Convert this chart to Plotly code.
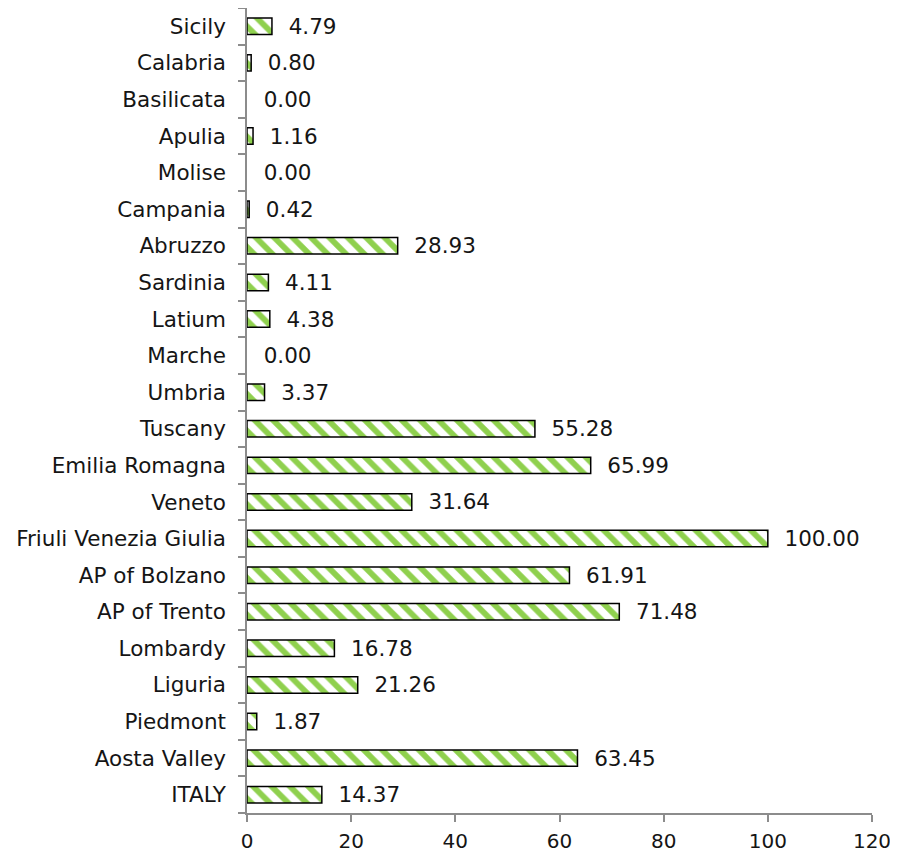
import plotly.graph_objects as go

regions = ["ITALY", "Aosta Valley", "Piedmont", "Liguria", "Lombardy", "AP of Trento",
           "AP of Bolzano", "Friuli Venezia Giulia", "Veneto", "Emilia Romagna", "Tuscany",
           "Umbria", "Marche", "Latium", "Sardinia", "Abruzzo", "Campania", "Molise",
           "Apulia", "Basilicata", "Calabria", "Sicily"]
values = [14.37, 63.45, 1.87, 21.26, 16.78, 71.48, 61.91, 100.00, 31.64, 65.99, 55.28,
          3.37, 0.00, 4.38, 4.11, 28.93, 0.42, 0.00, 1.16, 0.00, 0.80, 4.79]
x_ticks = [0, 20, 40, 60, 80, 100, 120]

font = "DejaVu Sans, Verdana, sans-serif"

fig = go.Figure(go.Bar(
    x=values, y=regions, orientation="h",
    width=0.45,
    marker=dict(
        color="white",
        line=dict(color="black", width=[0 if v == 0 else 1.5 for v in values]),
        pattern=dict(shape="\\", fgcolor="#8FD04E", bgcolor="white", fgopacity=1,
                     size=13, solidity=0.45),
    ),
    text=["\u00a0\u00a0" + f"{v:.2f}" for v in values],
    textposition="outside",
    constraintext="none",
    cliponaxis=False,
    textfont=dict(family=font, size=21.5, color="#151515"),
))

fig.update_layout(
    width=898, height=858,
    margin=dict(l=239, r=34, t=0, b=53),
    plot_bgcolor="white", paper_bgcolor="white",
    showlegend=False,
    font=dict(family=font, size=21, color="#151515"),
    xaxis=dict(range=[0, 120], tickvals=x_ticks, showgrid=False, zeroline=False,
               automargin=False,
               showline=True, linecolor="#8c8c8c", linewidth=1.5,
               ticks="outside", ticklen=7, tickcolor="#8c8c8c", tickwidth=1.5,
               ticklabelstandoff=2, tickfont=dict(size=20)),
    yaxis=dict(type="category", categoryorder="array", categoryarray=regions,
               automargin=False,
               showgrid=False, zeroline=False, showline=True, linecolor="#8c8c8c",
               linewidth=1.5, ticks="outside", tickson="boundaries", ticklen=7,
               tickcolor="#8c8c8c", tickwidth=1.5, ticklabelstandoff=15,
               tickfont=dict(size=21.5)),
)

fig.write_html("out.html")
